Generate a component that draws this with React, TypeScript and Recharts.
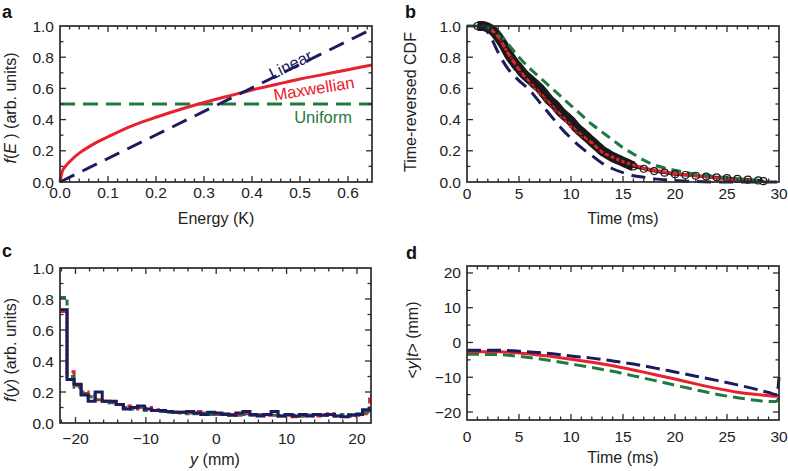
import React from 'react';
import { LineChart, Line, XAxis, YAxis, ReferenceDot } from 'recharts';

const NAVY = '#1d1b5e';
const RED = '#e8212c';
const GREEN = '#1f7a41';
const FRAME = '#2b2b2b';
const INK = '#222';
const FONT = '"Liberation Sans", Arial, Helvetica, sans-serif';

// ---- panel a: energy distributions
const energyLinear = [0, 0.65];
const fLinear = [0, 0.98];
const energyMax = [0, 0.005, 0.01, 0.02, 0.04, 0.06, 0.08, 0.1, 0.15, 0.2, 0.25, 0.3, 0.35, 0.4, 0.45, 0.5, 0.55, 0.6, 0.65];
const fMax = [0, 0.07, 0.095, 0.13, 0.185, 0.225, 0.26, 0.29, 0.36, 0.415, 0.465, 0.51, 0.55, 0.59, 0.625, 0.66, 0.69, 0.72, 0.75];
const energyUniform = [0, 0.65];
const fUniform = [0.5, 0.5];
const aXMajor = [0, 0.1, 0.2, 0.3, 0.4, 0.5, 0.6];
const aYMajor = [0, 0.2, 0.4, 0.6, 0.8, 1.0];

// ---- panel b: time-reversed CDF
const tData = [1, 1.5, 2, 2.5, 3, 3.5, 4, 4.5, 5, 5.5, 6, 6.5, 7, 7.5, 8, 8.5, 9, 9.5, 10, 10.5, 11, 11.5, 12, 12.5, 13, 13.5, 14, 14.5, 15, 15.5, 16, 17, 18, 19, 20, 21, 22, 23, 24, 25, 26, 27, 28, 28.5];
const cdfData = [1.0, 1.0, 0.99, 0.97, 0.93, 0.88, 0.82, 0.77, 0.73, 0.69, 0.66, 0.63, 0.6, 0.56, 0.52, 0.49, 0.45, 0.42, 0.39, 0.35, 0.32, 0.29, 0.26, 0.23, 0.2, 0.18, 0.16, 0.145, 0.13, 0.115, 0.1, 0.085, 0.07, 0.06, 0.05, 0.045, 0.04, 0.035, 0.03, 0.025, 0.02, 0.015, 0.01, 0.005];
const tRed = [1.5, 2, 3, 4, 5, 6, 7, 8, 9, 10, 11, 12, 13, 14, 15, 16, 17, 18, 20, 22, 24, 26, 28];
const cdfRed = [1.0, 0.99, 0.93, 0.82, 0.72, 0.64, 0.57, 0.5, 0.43, 0.36, 0.3, 0.25, 0.19, 0.16, 0.13, 0.11, 0.09, 0.075, 0.055, 0.04, 0.025, 0.015, 0.005];
const tGreen = [0, 1, 2, 3, 4, 5, 6, 7, 8, 9, 10, 11, 12, 13, 14, 15, 16, 17, 18, 19, 20, 22, 24, 26, 28];
const cdfGreen = [1.0, 1.0, 0.99, 0.95, 0.88, 0.8, 0.73, 0.67, 0.61, 0.55, 0.49, 0.43, 0.37, 0.32, 0.27, 0.22, 0.18, 0.14, 0.11, 0.09, 0.075, 0.05, 0.035, 0.02, 0.01];
const tNavy = [1, 1.5, 2, 2.5, 3, 3.5, 4, 5, 6, 7, 8, 9, 10, 11, 12, 13, 14, 15, 16, 17, 18, 20, 22, 25, 30];
const cdfNavy = [1.0, 0.99, 0.96, 0.9, 0.83, 0.77, 0.72, 0.65, 0.59, 0.51, 0.43, 0.35, 0.28, 0.22, 0.17, 0.12, 0.085, 0.06, 0.04, 0.03, 0.02, 0.01, 0.003, 0, 0];
const bXMajor = [0, 5, 10, 15, 20, 25, 30];
const bYMajor = [0, 0.2, 0.4, 0.6, 0.8, 1.0];

// ---- panel c: position histograms (bin edges, last value repeated to close)
const yEdges = [-22.2, -21.2, -20.2, -19.2, -18.2, -17.2, -16.2, -15.2, -14.2, -13.2, -12.2, -11.2, -10.2, -9.2, -8.2, -7.2, -6.2, -5.2, -4.2, -3.2, -2.2, -1.2, -0.2, 0.8, 1.8, 2.8, 3.8, 4.8, 5.8, 6.8, 7.8, 8.8, 9.8, 10.8, 11.8, 12.8, 13.8, 14.8, 15.8, 16.8, 17.8, 18.8, 19.8, 20.8, 21.8, 22];
const histNavy = [0.73, 0.28, 0.25, 0.18, 0.14, 0.2, 0.14, 0.14, 0.12, 0.09, 0.1, 0.11, 0.09, 0.08, 0.08, 0.075, 0.07, 0.07, 0.075, 0.065, 0.055, 0.07, 0.065, 0.055, 0.05, 0.065, 0.075, 0.055, 0.045, 0.055, 0.075, 0.045, 0.055, 0.045, 0.055, 0.045, 0.055, 0.05, 0.055, 0.045, 0.04, 0.05, 0.055, 0.085, 0.085, 0.085];
const histRed = [0.72, 0.33, 0.24, 0.2, 0.18, 0.15, 0.14, 0.13, 0.12, 0.11, 0.1, 0.09, 0.1, 0.085, 0.08, 0.075, 0.07, 0.07, 0.065, 0.075, 0.06, 0.06, 0.055, 0.06, 0.055, 0.05, 0.06, 0.05, 0.055, 0.05, 0.05, 0.045, 0.05, 0.04, 0.045, 0.05, 0.045, 0.055, 0.06, 0.045, 0.05, 0.045, 0.05, 0.06, 0.18, 0.18];
const histGreen = [0.81, 0.3, 0.23, 0.19, 0.17, 0.15, 0.14, 0.13, 0.12, 0.1, 0.09, 0.1, 0.08, 0.08, 0.075, 0.07, 0.07, 0.065, 0.06, 0.06, 0.065, 0.055, 0.055, 0.06, 0.05, 0.06, 0.055, 0.05, 0.05, 0.055, 0.05, 0.045, 0.05, 0.05, 0.045, 0.05, 0.055, 0.05, 0.05, 0.045, 0.055, 0.055, 0.06, 0.07, 0.08, 0.08];
const cXMajor = [-20, -10, 0, 10, 20];
const cYMajor = [0, 0.2, 0.4, 0.6, 0.8, 1.0];

// ---- panel d: mean position vs time
const tdNavy = [0, 3, 5, 8, 10, 12, 14, 16, 18, 20, 22, 24, 26, 28, 29, 29.8, 30];
const ydNavy = [-2.2, -2.2, -2.5, -3.2, -3.9, -4.5, -5.3, -6.2, -7.3, -8.5, -9.7, -10.9, -12.2, -13.6, -14.4, -15.0, -10.0];
const tdRed = [0, 3, 5, 8, 10, 12, 14, 16, 18, 20, 22, 24, 26, 28, 29, 29.8, 30];
const ydRed = [-2.6, -2.7, -3.0, -4.0, -4.8, -5.7, -6.7, -7.9, -9.2, -10.5, -11.9, -13.2, -14.3, -15.0, -15.3, -15.5, -15.2];
const tdGreen = [0, 3, 5, 8, 10, 12, 14, 16, 18, 20, 22, 24, 26, 28, 29, 29.7, 30];
const ydGreen = [-3.4, -3.5, -4.0, -5.2, -6.2, -7.2, -8.3, -9.6, -10.9, -12.3, -13.6, -14.9, -15.9, -16.7, -17.0, -17.0, -15.8];
const dXMajor = [0, 5, 10, 15, 20, 25, 30];
const dYMajor = [-20, -10, 0, 10, 20];

const zip = (xs: number[], vs: number[]) => xs.map((x, i) => ({ x, v: vs[i] }));
const histTable = yEdges.map((x, i) => ({ x, navy: histNavy[i], red: histRed[i], green: histGreen[i] }));

// minor tick positions between major ones
const steps = (from: number, to: number, step: number) => {
  const out: number[] = [];
  for (let v = from; v <= to + 1e-9; v += step) out.push(Math.round(v * 1000) / 1000);
  return out;
};

const minus = (v: number, digits = 0) => (v < 0 ? '\u2212' : '') + Math.abs(v).toFixed(digits);
const fix1 = (v: number) => v.toFixed(1);
const isMajor = (v: number, majors: number[]) => majors.some((m) => Math.abs(m - v) < 1e-6);

// tick labels from the recharts axes; box and tick marks in the overlay below
const labelTick = (side: 'bottom' | 'left', majors: number[], fmt: (v: number) => string, offset = 17) => (props: any) => {
  const { x, y, payload } = props;
  if (!isMajor(payload.value, majors)) return <g />;
  if (side === 'bottom')
    return (
      <text x={x} y={y + offset} textAnchor="middle" fontSize={15.5} fill={INK} fontFamily={FONT}>
        {fmt(payload.value)}
      </text>
    );
  return (
    <text x={x - 6} y={y + 5.5} textAnchor="end" fontSize={15.5} fill={INK} fontFamily={FONT}>
      {fmt(payload.value)}
    </text>
  );
};

interface FrameCfg {
  xDomain: [number, number];
  yDomain: [number, number];
  xTicks: number[];
  yTicks: number[];
  xMajor: number[];
  yMajor: number[];
  left: number; // plot box on the page, matches chart margin + axis sizes
  top: number;
  plotW: number;
  plotH: number;
}

const cfgA: FrameCfg = { xDomain: [0, 0.65], yDomain: [0, 1], xTicks: steps(0, 0.64, 0.02), yTicks: steps(0, 1, 0.1), xMajor: aXMajor, yMajor: aYMajor, left: 60, top: 26, plotW: 312, plotH: 156 };
const cfgB: FrameCfg = { xDomain: [0, 30], yDomain: [0, 1], xTicks: steps(0, 30, 1), yTicks: steps(0, 1, 0.1), xMajor: bXMajor, yMajor: bYMajor, left: 467, top: 26, plotW: 312, plotH: 156 };
const cfgC: FrameCfg = { xDomain: [-22.2, 22], yDomain: [0, 1], xTicks: steps(-22, 22, 2), yTicks: steps(0, 1, 0.1), xMajor: cXMajor, yMajor: cYMajor, left: 60, top: 268, plotW: 311, plotH: 155 };
const cfgD: FrameCfg = { xDomain: [0, 30], yDomain: [-22.3, 22], xTicks: steps(0, 30, 1), yTicks: steps(-20, 20, 5), xMajor: dXMajor, yMajor: dYMajor, left: 467, top: 266, plotW: 312, plotH: 154 };

// box with inward ticks on all four sides
const FrameBox: React.FC<{ c: FrameCfg }> = ({ c }) => {
  const [x0, x1] = c.xDomain;
  const [y0, y1] = c.yDomain;
  const px = (v: number) => c.left + ((v - x0) / (x1 - x0)) * c.plotW;
  const py = (v: number) => c.top + c.plotH - ((v - y0) / (y1 - y0)) * c.plotH;
  const bottom = c.top + c.plotH;
  const right = c.left + c.plotW;
  return (
    <g stroke={FRAME} fill="none">
      {c.xTicks.filter((t) => t > x0 + 1e-9 && t < x1 - 1e-9).map((t) => {
        const len = isMajor(t, c.xMajor) ? 6 : 3.5;
        return (
          <g key={`x${t}`} strokeWidth={1.3}>
            <line x1={px(t)} x2={px(t)} y1={bottom} y2={bottom - len} />
            <line x1={px(t)} x2={px(t)} y1={c.top} y2={c.top + len} />
          </g>
        );
      })}
      {c.yTicks.filter((t) => t > y0 + 1e-9 && t < y1 - 1e-9).map((t) => {
        const len = isMajor(t, c.yMajor) ? 6 : 3.5;
        return (
          <g key={`y${t}`} strokeWidth={1.3}>
            <line x1={c.left} x2={c.left + len} y1={py(t)} y2={py(t)} />
            <line x1={right} x2={right - len} y1={py(t)} y2={py(t)} />
          </g>
        );
      })}
      <rect x={c.left} y={c.top} width={c.plotW} height={c.plotH} strokeWidth={1.7} />
    </g>
  );
};

const textLabel = (text: string, color: string, angle: number) => (p: any) => (
  <text x={p.cx} y={p.cy} textAnchor="middle" dominantBaseline="central" fontSize={16.5} fill={color} fontFamily={FONT}
    transform={`rotate(${angle} ${p.cx} ${p.cy})`}>
    {text}
  </text>
);

const App: React.FC = () => {
  const boxStyle = (left: number, top: number): React.CSSProperties => ({ position: 'absolute', left, top });
  return (
    <div style={{ position: 'absolute', left: 0, top: 0, width: 788, height: 471, background: '#fff', fontFamily: FONT }}>
      {/* a */}
      <div style={boxStyle(0, 0)}>
        <LineChart width={394} height={235} margin={{ top: 26, right: 22, left: 0, bottom: 0 }}>
          <XAxis type="number" dataKey="x" domain={cfgA.xDomain} ticks={cfgA.xTicks} interval={0} tickSize={0} tickMargin={0}
            tickLine={false} axisLine={false} height={53} tick={labelTick('bottom', aXMajor, fix1, 16)} />
          <YAxis type="number" domain={cfgA.yDomain} ticks={cfgA.yTicks} interval={0} tickSize={0} tickMargin={0}
            tickLine={false} axisLine={false} width={60} tick={labelTick('left', aYMajor, fix1)} />
          <Line data={zip(energyUniform, fUniform)} dataKey="v" stroke={GREEN} strokeWidth={3} strokeDasharray="15 8" dot={false} isAnimationActive={false} />
          <Line data={zip(energyMax, fMax)} type="monotone" dataKey="v" stroke={RED} strokeWidth={3} dot={false} isAnimationActive={false} />
          <ReferenceDot x={0.48} y={0.755} r={0} ifOverflow="visible" shape={textLabel('Linear', NAVY, -26)} />
          <Line data={zip(energyLinear, fLinear)} dataKey="v" stroke={NAVY} strokeWidth={3} strokeDasharray="16 9" dot={false} isAnimationActive={false} />
          <ReferenceDot x={0.529} y={0.6} r={0} ifOverflow="visible" shape={textLabel('Maxwellian', RED, -9)} />
          <ReferenceDot x={0.548} y={0.417} r={0} ifOverflow="visible" shape={textLabel('Uniform', GREEN, 0)} />
        </LineChart>
      </div>

      {/* b */}
      <div style={boxStyle(394, 0)}>
        <LineChart width={394} height={235} margin={{ top: 26, right: 9, left: 0, bottom: 0 }}>
          <XAxis type="number" dataKey="x" domain={cfgB.xDomain} ticks={cfgB.xTicks} interval={0} tickSize={0} tickMargin={0}
            tickLine={false} axisLine={false} height={53} tick={labelTick('bottom', bXMajor, (v) => String(v), 17)} />
          <YAxis type="number" domain={cfgB.yDomain} ticks={cfgB.yTicks} interval={0} tickSize={0} tickMargin={0}
            tickLine={false} axisLine={false} width={73} tick={labelTick('left', bYMajor, fix1)} />
          <Line data={zip(tData, cdfData).filter((d) => d.x <= 16)} type="monotone" dataKey="v" stroke="#1a1a1a" strokeWidth={10} dot={false} isAnimationActive={false} />
          <Line data={zip(tData, cdfData)} type="monotone" dataKey="v" stroke="#1a1a1a" strokeWidth={3} isAnimationActive={false}
            dot={{ r: 3.5, stroke: '#1a1a1a', strokeWidth: 1.2, fill: 'none' }} />
          <Line data={zip(tRed, cdfRed)} type="monotone" dataKey="v" stroke={RED} strokeWidth={3} dot={false} isAnimationActive={false} />
          <Line data={zip(tGreen, cdfGreen)} type="monotone" dataKey="v" stroke={GREEN} strokeWidth={3} strokeDasharray="10 6" dot={false} isAnimationActive={false} />
          <Line data={zip(tNavy, cdfNavy)} type="monotone" dataKey="v" stroke={NAVY} strokeWidth={3} strokeDasharray="14 8" dot={false} isAnimationActive={false} />
        </LineChart>
      </div>

      {/* c */}
      <div style={boxStyle(0, 235)}>
        <LineChart width={394} height={236} data={histTable} margin={{ top: 33, right: 23, left: 0, bottom: 0 }}>
          <XAxis type="number" dataKey="x" domain={cfgC.xDomain} ticks={cfgC.xTicks} interval={0} tickSize={0} tickMargin={0}
            tickLine={false} axisLine={false} height={48} tick={labelTick('bottom', cXMajor, (v) => minus(v), 21)} />
          <YAxis type="number" domain={cfgC.yDomain} ticks={cfgC.yTicks} interval={0} tickSize={0} tickMargin={0}
            tickLine={false} axisLine={false} width={60} tick={labelTick('left', cYMajor, fix1)} />
          <Line type="stepAfter" dataKey="red" stroke={RED} strokeWidth={3} strokeDasharray="6 3" dot={false} isAnimationActive={false} />
          <Line type="stepAfter" dataKey="green" stroke={GREEN} strokeWidth={3} strokeDasharray="6 3" dot={false} isAnimationActive={false} />
          <Line type="stepAfter" dataKey="navy" stroke={NAVY} strokeWidth={3} dot={false} isAnimationActive={false} />
        </LineChart>
      </div>

      {/* d */}
      <div style={boxStyle(394, 235)}>
        <LineChart width={394} height={236} margin={{ top: 31, right: 9, left: 0, bottom: 0 }}>
          <XAxis type="number" dataKey="x" domain={cfgD.xDomain} ticks={cfgD.xTicks} interval={0} tickSize={0} tickMargin={0}
            tickLine={false} axisLine={false} height={51} tick={labelTick('bottom', dXMajor, (v) => String(v), 22)} />
          <YAxis type="number" domain={cfgD.yDomain} ticks={cfgD.yTicks} interval={0} tickSize={0} tickMargin={0}
            tickLine={false} axisLine={false} width={73} tick={labelTick('left', dYMajor, (v) => minus(v))} />
          <Line data={zip(tdGreen, ydGreen)} type="monotone" dataKey="v" stroke={GREEN} strokeWidth={3} strokeDasharray="12 6" dot={false} isAnimationActive={false} />
          <Line data={zip(tdRed, ydRed)} type="monotone" dataKey="v" stroke={RED} strokeWidth={3} dot={false} isAnimationActive={false} />
          <Line data={zip(tdNavy, ydNavy)} type="monotone" dataKey="v" stroke={NAVY} strokeWidth={3} strokeDasharray="14 6" dot={false} isAnimationActive={false} />
        </LineChart>
      </div>

      {/* frames, panel letters and axis titles */}
      <svg width={788} height={471} style={{ position: 'absolute', left: 0, top: 0, pointerEvents: 'none' }} fontFamily={FONT} fill={INK}>
        <FrameBox c={cfgA} />
        <FrameBox c={cfgB} />
        <FrameBox c={cfgC} />
        <FrameBox c={cfgD} />
        <g fontSize={18} fontWeight="bold" fill="#111">
          <text x={2} y={18}>a</text>
          <text x={405} y={18}>b</text>
          <text x={2} y={257}>c</text>
          <text x={406} y={259}>d</text>
        </g>
        <g fontSize={16}>
          <text x={216} y={224} textAnchor="middle">Energy (K)</text>
          <text transform="translate(16,108) rotate(-90)" textAnchor="middle">
            <tspan fontStyle="italic">f</tspan>(<tspan fontStyle="italic">E</tspan> ) (arb. units)
          </text>
          <text x={623} y={224} textAnchor="middle">Time (ms)</text>
          <text transform="translate(416,102) rotate(-90)" textAnchor="middle">Time-reversed CDF</text>
          <text x={215} y={465} textAnchor="middle">
            <tspan fontStyle="italic">y</tspan> (mm)
          </text>
          <text transform="translate(16,350) rotate(-90)" textAnchor="middle">
            <tspan fontStyle="italic">f</tspan>(<tspan fontStyle="italic">y</tspan>) (arb. units)
          </text>
          <text x={623} y={463} textAnchor="middle">Time (ms)</text>
          <text transform="translate(418,340) rotate(-90)" textAnchor="middle">
            {'<'}<tspan fontStyle="italic">y</tspan>|<tspan fontStyle="italic">t</tspan>{'>'} (mm)
          </text>
        </g>
      </svg>
    </div>
  );
};

export default App;
